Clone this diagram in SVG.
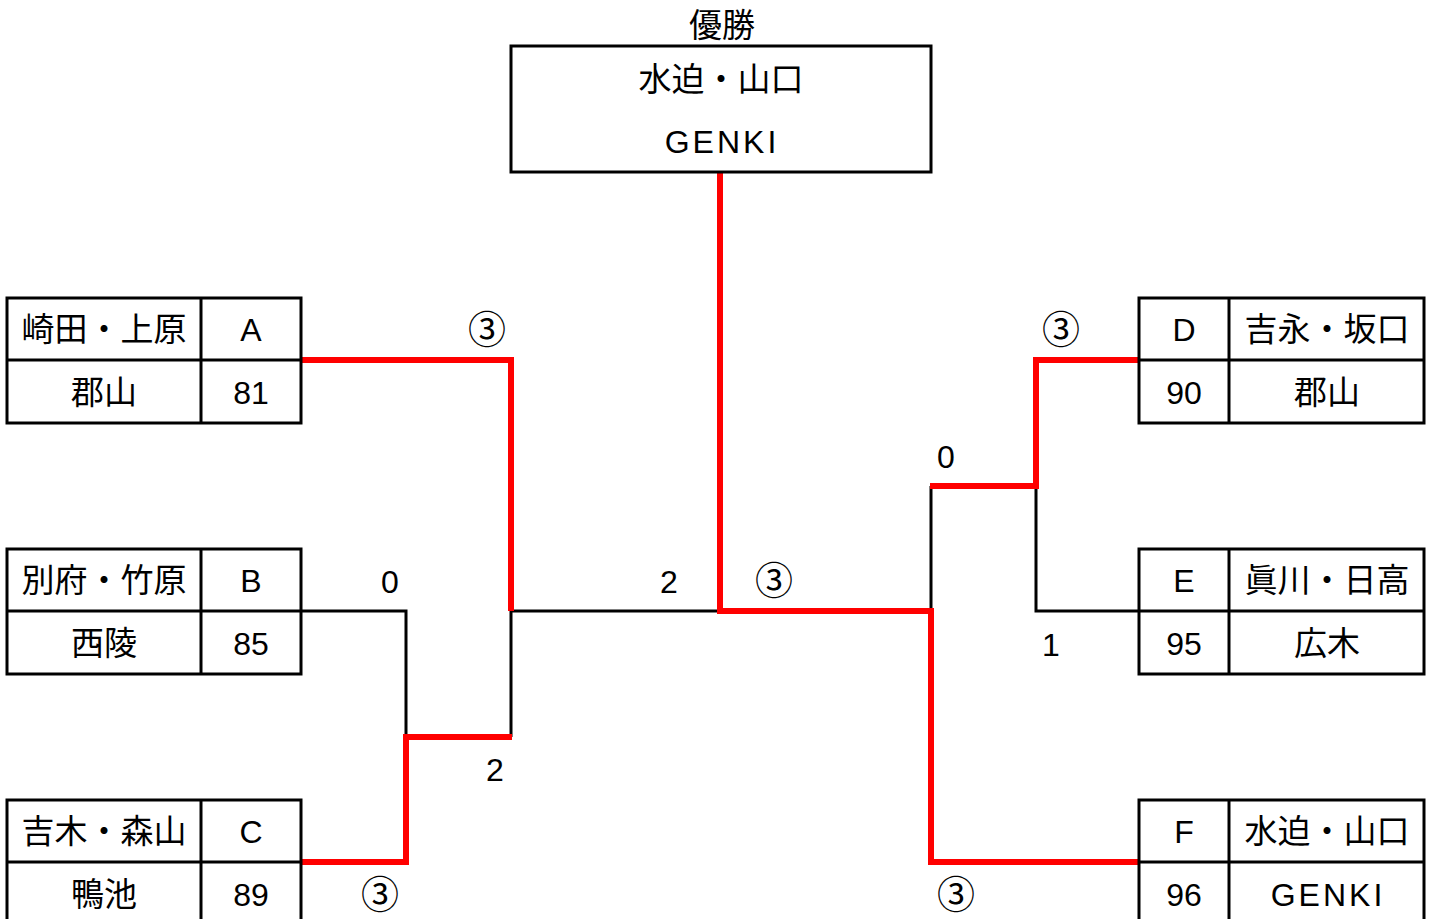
<svg xmlns="http://www.w3.org/2000/svg" width="1436" height="919" viewBox="0 0 1436 919">
<style>
.box{fill:#fff;stroke:#000;stroke-width:3}
.div{stroke:#000;stroke-width:3}
.j{font-family:"Noto Sans CJK JP","Noto Sans CJK SC",sans-serif;font-size:33px;font-weight:400;fill:#000;text-anchor:middle}
.l{font-family:"Liberation Sans",Arial,sans-serif;font-size:32px;fill:#000;text-anchor:middle}
.c{font-family:"Noto Sans CJK JP",sans-serif;font-size:38px;fill:#000;text-anchor:middle}
.bk{fill:none;stroke:#000;stroke-width:3}
.rd{fill:none;stroke:#f00;stroke-width:6;stroke-linejoin:miter;stroke-linecap:square}
</style>
<rect width="1436" height="919" fill="#fff"/>
<g id="connectors">
<polyline class="bk" points="301,611 406,611 406,737"/>
<polyline class="bk" points="511,611 511,737"/>
<polyline class="bk" points="511,611 720,611"/>
<polyline class="bk" points="931,486 931,611"/>
<polyline class="bk" points="1139,611 1036,611 1036,486"/>
<polyline class="rd" points="304,360 511,360 511,608"/>
<polyline class="rd" points="304,862 406,862 406,737 509,737"/>
<polyline class="rd" points="720,175 720,611 931,611 931,862 1136,862"/>
<polyline class="rd" points="1136,360 1036,360 1036,486 933,486"/>
</g>
<g id="champion">
<text class="j" x="722" y="37" font-size="35">優勝</text>
<rect class="box" x="511" y="46" width="420" height="126"/>
<text class="j" x="721" y="91">水迫・山口</text>
<text class="l" x="722" y="153" letter-spacing="3">GENKI</text>
</g>
<g id="team-A">
<rect class="box" x="7" y="298" width="294" height="125"/>
<line class="div" x1="7" y1="360" x2="301" y2="360"/>
<line class="div" x1="201" y1="298" x2="201" y2="423"/>
<text class="j" x="104" y="341">崎田・上原</text>
<text class="l" x="251" y="341">A</text>
<text class="j" x="104" y="404">郡山</text>
<text class="l" x="251" y="404">81</text>
</g>
<g id="team-B">
<rect class="box" x="7" y="549" width="294" height="125"/>
<line class="div" x1="7" y1="611" x2="301" y2="611"/>
<line class="div" x1="201" y1="549" x2="201" y2="674"/>
<text class="j" x="104" y="592">別府・竹原</text>
<text class="l" x="251" y="592">B</text>
<text class="j" x="104" y="655">西陵</text>
<text class="l" x="251" y="655">85</text>
</g>
<g id="team-C">
<rect class="box" x="7" y="800" width="294" height="125"/>
<line class="div" x1="7" y1="862" x2="301" y2="862"/>
<line class="div" x1="201" y1="800" x2="201" y2="925"/>
<text class="j" x="104" y="843">吉木・森山</text>
<text class="l" x="251" y="843">C</text>
<text class="j" x="104" y="906">鴨池</text>
<text class="l" x="251" y="906">89</text>
</g>
<g id="team-D">
<rect class="box" x="1139" y="298" width="285" height="125"/>
<line class="div" x1="1139" y1="360" x2="1424" y2="360"/>
<line class="div" x1="1229" y1="298" x2="1229" y2="423"/>
<text class="l" x="1184" y="341">D</text>
<text class="j" x="1327" y="341">吉永・坂口</text>
<text class="l" x="1184" y="404">90</text>
<text class="j" x="1327" y="404">郡山</text>
</g>
<g id="team-E">
<rect class="box" x="1139" y="549" width="285" height="125"/>
<line class="div" x1="1139" y1="611" x2="1424" y2="611"/>
<line class="div" x1="1229" y1="549" x2="1229" y2="674"/>
<text class="l" x="1184" y="592">E</text>
<text class="j" x="1327" y="592">眞川・日高</text>
<text class="l" x="1184" y="655">95</text>
<text class="j" x="1327" y="655">広木</text>
</g>
<g id="team-F">
<rect class="box" x="1139" y="800" width="285" height="125"/>
<line class="div" x1="1139" y1="862" x2="1424" y2="862"/>
<line class="div" x1="1229" y1="800" x2="1229" y2="925"/>
<text class="l" x="1184" y="843">F</text>
<text class="j" x="1327" y="843">水迫・山口</text>
<text class="l" x="1184" y="906">96</text>
<text class="l" x="1328" y="906" letter-spacing="3">GENKI</text>
</g>
<g id="scores">
<text class="c" x="487" y="343">③</text>
<text class="l" x="390" y="593">0</text>
<text class="l" x="495" y="781">2</text>
<text class="c" x="380" y="908">③</text>
<text class="l" x="669" y="593">2</text>
<text class="c" x="774" y="594">③</text>
<text class="c" x="1061" y="343">③</text>
<text class="l" x="946" y="468">0</text>
<text class="l" x="1051" y="656">1</text>
<text class="c" x="956" y="908">③</text>
</g>
</svg>
